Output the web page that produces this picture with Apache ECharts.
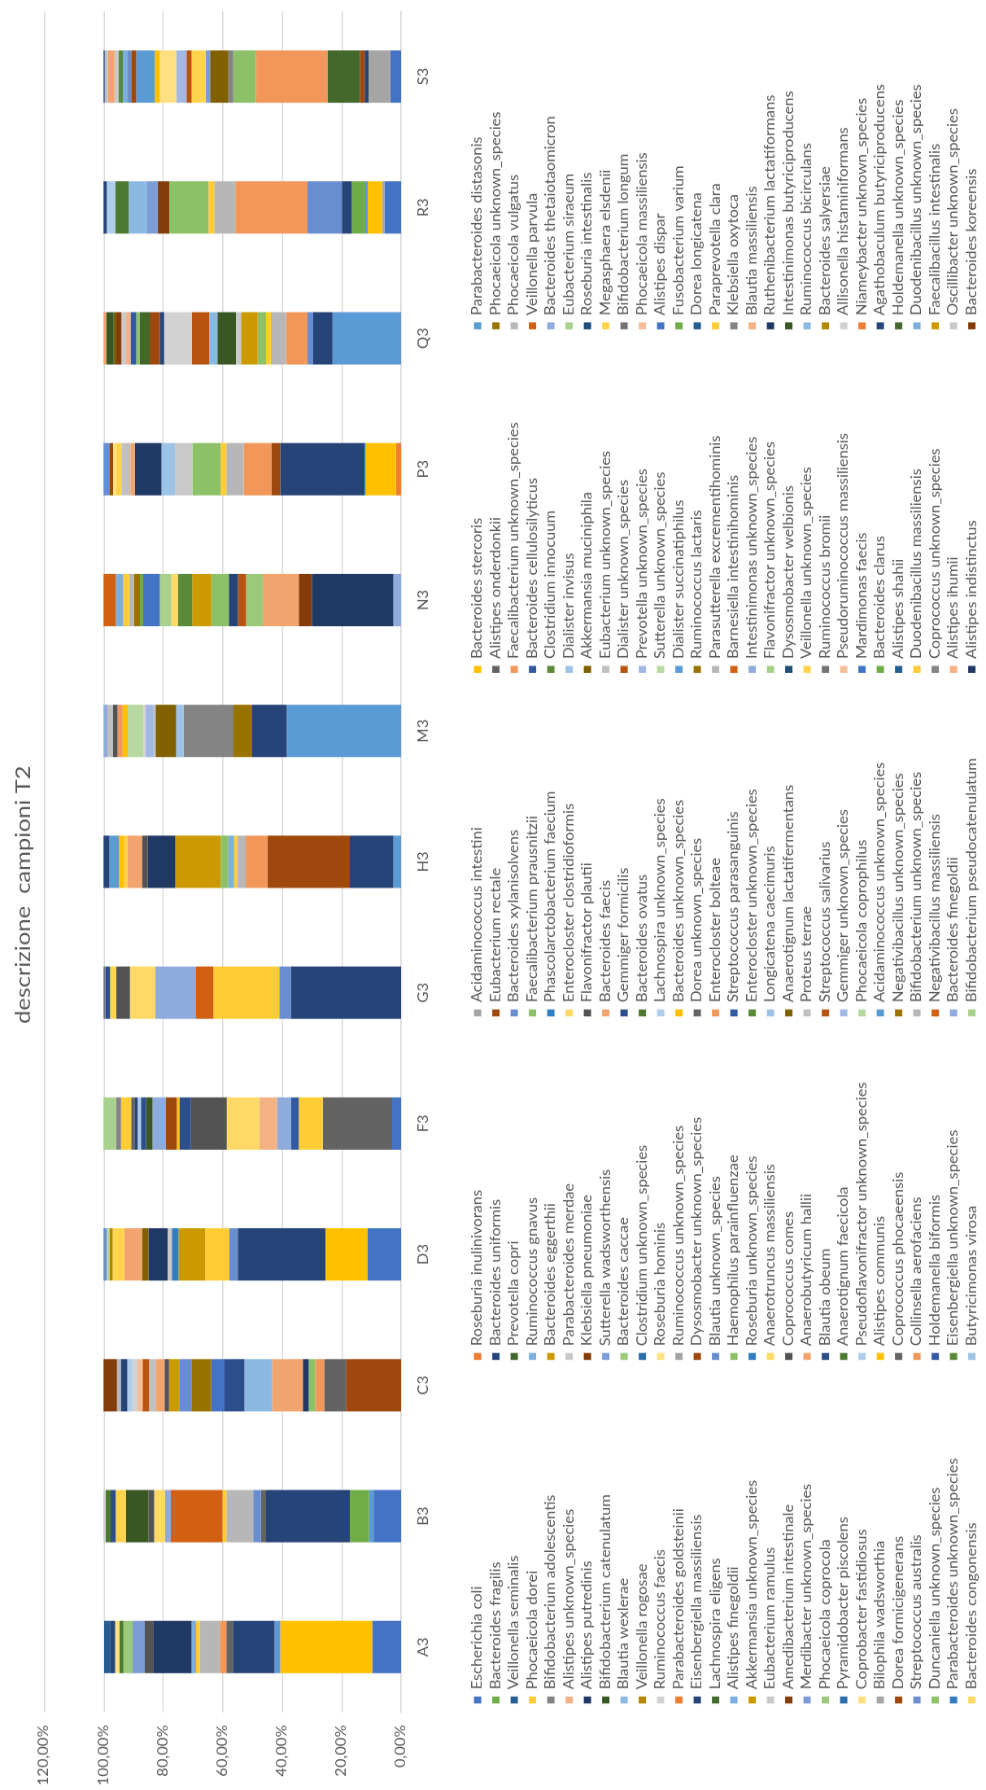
<!DOCTYPE html>
<html>
<head>
<meta charset="utf-8">
<script src="https://cdn.jsdelivr.net/npm/echarts@6/dist/echarts.min.js"></script>
<style>
  html, body { margin: 0; padding: 0; background: #ffffff; overflow: hidden; width: 986px; height: 1790px; }
  /* chart is laid out landscape, then turned a quarter turn to stand upright */
  #chart {
    position: absolute; left: 0; top: 0;
    width: 1279px; height: 808px;
    transform-origin: 0 0;
    transform: translate(0px, 1790px) rotate(-90deg) scale(1.39953, 1.22030);
  }
</style>
</head>
<body>
<div id="chart"></div>
<script>
// Samples on the category axis
const categories = ['A3', 'B3', 'C3', 'D3', 'F3', 'G3', 'H3', 'M3', 'N3', 'P3', 'Q3', 'R3', 'S3'];

// Species, in series order (legend reads row by row, five per row)
const speciesNames = [
  'Escherichia coli', 'Roseburia inulinivorans', 'Acidaminococcus intestini', 'Bacteroides stercoris', 'Parabacteroides distasonis',
  'Bacteroides fragilis', 'Bacteroides uniformis', 'Eubacterium rectale', 'Alistipes onderdonkii', 'Phocaeicola unknown_species',
  'Veillonella seminalis', 'Prevotella copri', 'Bacteroides xylanisolvens', 'Faecalibacterium unknown_species', 'Phocaeicola vulgatus',
  'Phocaeicola dorei', 'Ruminococcus gnavus', 'Faecalibacterium prausnitzii', 'Bacteroides cellulosilyticus', 'Veillonella parvula',
  'Bifidobacterium adolescentis', 'Bacteroides eggerthii', 'Phascolarctobacterium faecium', 'Clostridium innocuum', 'Bacteroides thetaiotaomicron',
  'Alistipes unknown_species', 'Parabacteroides merdae', 'Enterocloster clostridioformis', 'Dialister invisus', 'Eubacterium siraeum',
  'Alistipes putredinis', 'Klebsiella pneumoniae', 'Flavonifractor plautii', 'Akkermansia muciniphila', 'Roseburia intestinalis',
  'Bifidobacterium catenulatum', 'Sutterella wadsworthensis', 'Bacteroides faecis', 'Eubacterium unknown_species', 'Megasphaera elsdenii',
  'Blautia wexlerae', 'Bacteroides caccae', 'Gemmiger formicilis', 'Dialister unknown_species', 'Bifidobacterium longum',
  'Veillonella rogosae', 'Clostridium unknown_species', 'Bacteroides ovatus', 'Prevotella unknown_species', 'Phocaeicola massiliensis',
  'Ruminococcus faecis', 'Roseburia hominis', 'Lachnospira unknown_species', 'Sutterella unknown_species', 'Alistipes dispar',
  'Parabacteroides goldsteinii', 'Ruminococcus unknown_species', 'Bacteroides unknown_species', 'Dialister succinatiphilus', 'Fusobacterium varium',
  'Eisenbergiella massiliensis', 'Dysosmobacter unknown_species', 'Dorea unknown_species', 'Ruminococcus lactaris', 'Dorea longicatena',
  'Lachnospira eligens', 'Blautia unknown_species', 'Enterocloster bolteae', 'Parasutterella excrementihominis', 'Paraprevotella clara',
  'Alistipes finegoldii', 'Haemophilus parainfluenzae', 'Streptococcus parasanguinis', 'Barnesiella intestinihominis', 'Klebsiella oxytoca',
  'Akkermansia unknown_species', 'Roseburia unknown_species', 'Enterocloster unknown_species', 'Intestinimonas unknown_species', 'Blautia massiliensis',
  'Eubacterium ramulus', 'Anaerotruncus massiliensis', 'Longicatena caecimuris', 'Flavonifractor unknown_species', 'Ruthenibacterium lactatiformans',
  'Amedibacterium intestinale', 'Coprococcus comes', 'Anaerotignum lactatifermentans', 'Dysosmobacter welbionis', 'Intestinimonas butyriciproducens',
  'Merdibacter unknown_species', 'Anaerobutyricum hallii', 'Proteus terrae', 'Veillonella unknown_species', 'Ruminococcus bicirculans',
  'Phocaeicola coprocola', 'Blautia obeum', 'Streptococcus salivarius', 'Ruminococcus bromii', 'Bacteroides salyersiae',
  'Pyramidobacter piscolens', 'Anaerotignum faecicola', 'Gemmiger unknown_species', 'Pseudoruminococcus massiliensis', 'Allisonella histaminiformans',
  'Coprobacter fastidiosus', 'Pseudoflavonifractor unknown_species', 'Phocaeicola coprophilus', 'Mardimonas faecis', 'Niameybacter unknown_species',
  'Bilophila wadsworthia', 'Alistipes communis', 'Acidaminococcus unknown_species', 'Bacteroides clarus', 'Agathobaculum butyriciproducens',
  'Dorea formicigenerans', 'Coprococcus phocaeensis', 'Negativibacillus unknown_species', 'Alistipes shahii', 'Holdemanella unknown_species',
  'Streptococcus australis', 'Collinsella aerofaciens', 'Bifidobacterium unknown_species', 'Duodenibacillus massiliensis', 'Duodenibacillus unknown_species',
  'Duncaniella unknown_species', 'Holdemanella biformis', 'Negativibacillus massiliensis', 'Coprococcus unknown_species', 'Faecalibacillus intestinalis',
  'Parabacteroides unknown_species', 'Eisenbergiella unknown_species', 'Bacteroides finegoldii', 'Alistipes ihumii', 'Oscillibacter unknown_species',
  'Bacteroides congonensis', 'Butyricimonas virosa', 'Bifidobacterium pseudocatenulatum', 'Alistipes indistinctus', 'Bacteroides koreensis'
];

// Relative abundance per sample: [species number (1-based, series order), percent]
const A3 = [[1, 9.7], [4, 30.9], [5, 1.9], [7, 14.0], [9, 2.2], [14, 2.2], [15, 6.7], [16, 1.3], [17, 1.5], [31, 12.9], [33, 2.8], [37, 4.1], [42, 3.1], [48, 1.3], [52, 1.5], [61, 1.7], [65, 2.0]];
const B3 = [[1, 9.2], [5, 1.5], [6, 6.5], [7, 28.2], [9, 1.7], [13, 2.6], [15, 9.0], [16, 1.3], [20, 17.4], [25, 1.9], [28, 3.7], [33, 1.9], [36, 7.6], [40, 3.4], [43, 1.7], [48, 1.7], [51, 0.8]];
const C3 = [[8, 18.5], [9, 7.3], [14, 3.0], [18, 2.2], [31, 2.0], [38, 10.3], [41, 9.3], [43, 6.7], [55, 4.5], [64, 6.7], [67, 4.1], [76, 3.4], [87, 1.5], [92, 3.0], [93, 2.2], [98, 2.2], [104, 1.7], [105, 1.7], [107, 1.7], [115, 2.2], [123, 1.3], [140, 4.5]];
const D3 = [[1, 11.2], [4, 14.2], [7, 29.5], [13, 2.8], [16, 8.1], [22, 9.0], [23, 2.2], [27, 1.5], [31, 6.4], [34, 2.2], [38, 5.9], [40, 3.9], [46, 1.1], [54, 0.9], [67, 1.1]];
const F3 = [[1, 3.0], [9, 23.3], [16, 8.1], [19, 2.5], [25, 4.8], [26, 5.9], [28, 11.0], [33, 12.0], [43, 3.9], [58, 0.9], [62, 3.6], [79, 4.5], [90, 2.2], [97, 1.7], [107, 1.1], [115, 1.1], [117, 1.1], [124, 3.4], [129, 1.7], [138, 4.2]];
const G3 = [[7, 37.0], [13, 3.9], [16, 22.2], [20, 5.8], [25, 13.7], [28, 8.5], [33, 4.7], [40, 2.0], [43, 1.6], [45, 0.6]];
const H3 = [[5, 2.6], [7, 14.6], [8, 27.7], [14, 7.3], [15, 2.8], [16, 1.1], [17, 1.9], [18, 2.6], [22, 15.3], [31, 9.3], [33, 1.9], [38, 4.8], [40, 1.1], [58, 1.9], [59, 3.1], [61, 2.0]];
const M3 = [[5, 38.4], [7, 11.6], [10, 6.3], [21, 16.8], [29, 2.5], [34, 6.9], [39, 0.7], [49, 2.7], [51, 0.7], [54, 5.3], [58, 1.7], [68, 1.7], [87, 1.5], [93, 1.9], [133, 1.3]];
const N3 = [[25, 2.6], [31, 27.3], [32, 4.5], [38, 12.1], [42, 5.6], [44, 2.8], [61, 3.0], [72, 5.9], [76, 6.4], [78, 4.8], [82, 2.2], [84, 3.9], [109, 5.6], [114, 1.1], [118, 2.0], [123, 1.6], [124, 2.0], [125, 2.5], [128, 4.1]];
const P3 = [[2, 1.7], [4, 10.1], [5, 0.5], [7, 28.3], [8, 3.0], [14, 9.3], [15, 5.8], [16, 1.9], [18, 9.5], [27, 5.9], [29, 4.5], [31, 9.0], [38, 1.5], [39, 3.0], [40, 1.7], [52, 1.1], [62, 1.1], [67, 2.1]];
const Q3 = [[5, 23.0], [7, 6.5], [13, 1.9], [14, 7.3], [15, 5.0], [16, 1.7], [18, 2.8], [22, 5.6], [27, 1.7], [36, 6.2], [41, 2.8], [44, 5.8], [51, 9.3], [61, 1.5], [62, 3.4], [66, 3.4], [72, 1.1], [73, 1.9], [80, 1.5], [81, 1.6], [86, 1.7], [88, 0.9], [90, 2.5], [92, 0.9]];
const R3 = [[1, 5.6], [3, 0.8], [4, 4.8], [5, 0.8], [6, 4.5], [7, 3.4], [13, 11.5], [14, 24.3], [15, 7.1], [16, 1.9], [18, 13.2], [32, 3.9], [37, 3.7], [41, 6.0], [48, 4.5], [53, 2.9], [61, 1.1]];
const S3 = [[1, 3.6], [3, 7.3], [7, 1.3], [8, 1.6], [12, 10.9], [14, 24.1], [18, 7.6], [21, 1.6], [34, 6.2], [37, 1.5], [40, 4.7], [44, 1.7], [49, 3.4], [52, 5.6], [58, 1.7], [59, 6.2], [62, 1.7], [67, 1.2], [71, 1.6], [78, 1.5], [81, 1.3], [92, 2.2], [93, 1.1], [97, 0.4]];

// Value-axis ticks (percent)
const valueTicks = [0, 20, 40, 60, 80, 100, 120];

const samples = { A3, B3, C3, D3, F3, G3, H3, M3, N3, P3, Q3, R3, S3 };

// Office theme series palette: six accents, cycled through luminance variations
const ACCENTS = ['#4472C4', '#ED7D31', '#A5A5A5', '#FFC000', '#5B9BD5', '#70AD47'];
const VARIATIONS = [[1, 0], [0.6, 0], [0.8, 0.2], [0.8, 0], [0.6, 0.4], [0.5, 0], [0.7, 0.3], [0.7, 0], [0.5, 0.5]];

function hexToHsl(hex) {
  const r = parseInt(hex.slice(1, 3), 16) / 255;
  const g = parseInt(hex.slice(3, 5), 16) / 255;
  const b = parseInt(hex.slice(5, 7), 16) / 255;
  const max = Math.max(r, g, b), min = Math.min(r, g, b);
  const l = (max + min) / 2;
  let h = 0, s = 0;
  if (max !== min) {
    const d = max - min;
    s = l > 0.5 ? d / (2 - max - min) : d / (max + min);
    if (max === r) h = ((g - b) / d + (g < b ? 6 : 0));
    else if (max === g) h = (b - r) / d + 2;
    else h = (r - g) / d + 4;
    h /= 6;
  }
  return [h, s, l];
}
function hslToHex(h, s, l) {
  function hue(p, q, t) {
    if (t < 0) t += 1;
    if (t > 1) t -= 1;
    if (t < 1 / 6) return p + (q - p) * 6 * t;
    if (t < 1 / 2) return q;
    if (t < 2 / 3) return p + (q - p) * (2 / 3 - t) * 6;
    return p;
  }
  let r, g, b;
  if (s === 0) { r = g = b = l; }
  else {
    const q = l < 0.5 ? l * (1 + s) : l + s - l * s;
    const p = 2 * l - q;
    r = hue(p, q, h + 1 / 3); g = hue(p, q, h); b = hue(p, q, h - 1 / 3);
  }
  const to = v => Math.round(Math.min(1, Math.max(0, v)) * 255).toString(16).padStart(2, '0');
  return '#' + to(r) + to(g) + to(b);
}
function seriesColor(i) {
  const k = i % 54;
  const [mod, off] = VARIATIONS[Math.floor(k / 6)];
  const [h, s, l] = hexToHsl(ACCENTS[k % 6]);
  return hslToHex(h, s, Math.min(1, l * mod + off));
}

// value lookup: sample -> species number -> percent
const lookup = {};
categories.forEach(c => {
  lookup[c] = {};
  samples[c].forEach(([n, v]) => { lookup[c][n] = v; });
});

const series = speciesNames.map((name, i) => ({
  name: name,
  type: 'bar',
  stack: 'total',
  barWidth: '40%',
  itemStyle: { color: seriesColor(i) },
  emphasis: { disabled: true },
  data: categories.map(c => lookup[c][i + 1] || 0)
}));

const FONT = 'Lato, "Open Sans", sans-serif';
const TEXT = '#595959';
const LINE = '#D9D9D9';

const chart = echarts.init(document.getElementById('chart'), null, { renderer: 'canvas', devicePixelRatio: 1.5 });
chart.setOption({
  animation: false,
  backgroundColor: '#ffffff',
  textStyle: { fontFamily: FONT },
  title: {
    text: 'descrizione  campioni T2',
    left: 'center',
    top: 11,
    padding: 0,
    textStyle: { fontFamily: FONT, fontSize: 17, fontWeight: 'normal', color: TEXT }
  },
  grid: { left: 55.4, right: 8.3, top: 36.1, bottom: 479.4, containLabel: false, outerBoundsMode: 'none' },
  xAxis: {
    type: 'category',
    data: categories,
    axisTick: { show: false },
    axisLine: { lineStyle: { color: LINE, width: 1 } },
    axisLabel: { margin: 13, fontFamily: FONT, fontSize: 11, color: TEXT }
  },
  yAxis: {
    type: 'value',
    min: valueTicks[0],
    max: valueTicks[valueTicks.length - 1],
    interval: valueTicks[1] - valueTicks[0],
    axisLine: { show: false },
    axisTick: { show: false },
    splitLine: { lineStyle: { color: LINE, width: 1 } },
    axisLabel: {
      margin: 9, fontFamily: FONT, fontSize: 11, color: TEXT,
      formatter: v => v.toFixed(2).replace('.', ',') + '%'
    }
  },
  legend: {
    data: speciesNames,
    orient: 'horizontal',
    left: 61.8,
    top: 385.9,
    width: 1230,
    padding: 0,
    itemWidth: 5,
    itemHeight: 6,
    itemGap: 4,
    icon: 'rect',
    selectedMode: false,
    textStyle: {
      fontFamily: FONT, fontSize: 11, color: TEXT,
      width: 231.4, overflow: 'truncate', lineHeight: 11
    }
  },
  series: series
});
</script>
</body>
</html>
